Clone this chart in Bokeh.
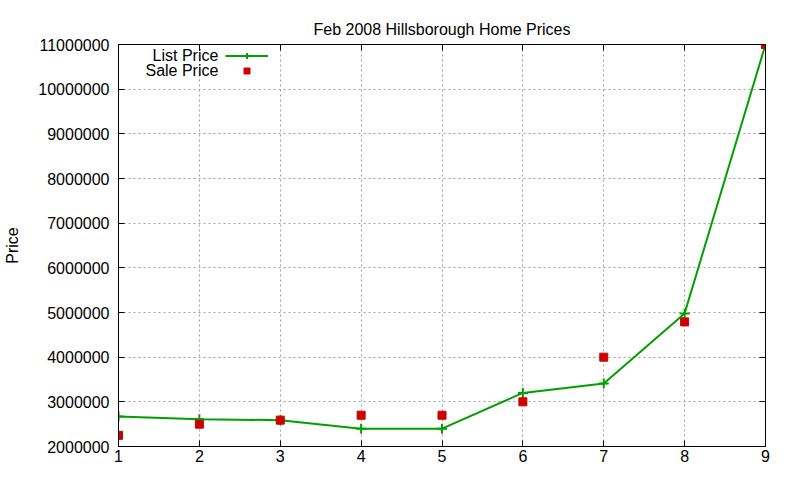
from bokeh.plotting import figure
from bokeh.models import (FixedTicker, PrintfTickFormatter, LinearAxis, Legend, LegendItem, Range1d, Label)
from bokeh.embed import file_html
from bokeh.resources import INLINE

index = [1, 2, 3, 4, 5, 6, 7, 8, 9]
list_price = [2670000, 2610000, 2590000, 2400000, 2400000, 3200000, 3410000, 4980000, 11000000]
sale_price = [2250000, 2500000, 2590000, 2700000, 2700000, 3000000, 4000000, 4790000, 11000000]
x_ticks = [1, 2, 3, 4, 5, 6, 7, 8, 9]
y_ticks = [2000000, 3000000, 4000000, 5000000, 6000000, 7000000, 8000000, 9000000, 10000000, 11000000]
series_names = ["List Price", "Sale Price"]

FONT = "Liberation Sans"
FS = "16px"
GREEN = "#00a000"
RED = "#cc0000"

W, H = 784, 464
BL, BR, BT, BB = 118, 19, 44, 18
frame_h = H - BT - BB

p = figure(width=W, height=H, output_backend="svg", toolbar_location=None,
           x_range=Range1d(1, 9), y_range=Range1d(2000000, 11000000),
           min_border_left=BL, min_border_right=BR, min_border_top=BT, min_border_bottom=BB)

p.title.text = "Feb 2008 Hillsborough Home Prices"
p.title.align = "center"
p.title.text_font = FONT
p.title.text_font_size = FS
p.title.text_font_style = "normal"
p.title.text_color = "#000000"
p.title.standoff = 13

p.outline_line_color = "black"
p.outline_line_width = 1
p.background_fill_color = "white"
p.border_fill_color = "white"

for ax in [p.xaxis[0], p.yaxis[0]]:
    ax.major_tick_in = 6
    ax.major_tick_out = 0
    ax.minor_tick_in = 0
    ax.minor_tick_out = 0
    ax.major_label_text_font = FONT
    ax.major_label_text_font_size = FS
    ax.major_label_text_color = "black"
    ax.axis_line_color = "black"
    ax.major_tick_line_color = "black"

p.xaxis[0].ticker = FixedTicker(ticks=x_ticks)
p.yaxis[0].ticker = FixedTicker(ticks=y_ticks)
p.yaxis[0].formatter = PrintfTickFormatter(format="%d")
p.yaxis[0].axis_label = "Price"
p.yaxis[0].axis_label_text_font = FONT
p.yaxis[0].axis_label_text_font_size = FS
p.yaxis[0].axis_label_text_font_style = "normal"
p.yaxis[0].axis_label_text_color = "black"
p.yaxis[0].axis_label_standoff = 14
p.yaxis[0].major_label_standoff = 9
p.xaxis[0].major_label_standoff = 3

# mirrored ticks
top = LinearAxis(ticker=FixedTicker(ticks=x_ticks), major_tick_in=6, major_tick_out=0,
                 minor_tick_in=0, minor_tick_out=0, major_label_text_font_size="0px",
                 major_label_text_color=None, axis_line_color="black")
right = LinearAxis(ticker=FixedTicker(ticks=y_ticks), major_tick_in=6, major_tick_out=0,
                   minor_tick_in=0, minor_tick_out=0, major_label_text_font_size="0px",
                   major_label_text_color=None, axis_line_color="black")
p.add_layout(top, "above")
p.add_layout(right, "right")

p.xgrid.ticker = FixedTicker(ticks=x_ticks)
p.ygrid.ticker = FixedTicker(ticks=y_ticks)
p.grid.grid_line_color = "#a0a0a0"
p.grid.grid_line_dash = "2 3"
p.grid.grid_line_width = 1

l1 = p.line(index, list_price, line_color=GREEN, line_width=2)
m1 = p.scatter(index, list_price, marker="cross", size=10, line_color=GREEN, line_width=2)
s1 = p.scatter(index, sale_price, marker="square", size=8, fill_color=RED, line_color=RED)

# gnuplot-style key: label text on the left, sample on the right
ROW_H = 15
legend = Legend(items=[LegendItem(label=" ", renderers=[l1, m1]),
                       LegendItem(label=" ", renderers=[s1])],
                location=(107, frame_h - 4 - 2 * ROW_H), background_fill_alpha=0,
                border_line_color=None, label_text_font=FONT, label_text_font_size=FS,
                spacing=0, padding=0, margin=0, glyph_width=43, glyph_height=ROW_H,
                label_height=ROW_H, label_width=1, label_standoff=0)
p.add_layout(legend)

key_x = 2.235
key_y = [10750000, 10410000]
for name, ky in zip(series_names, key_y):
    p.add_layout(Label(x=key_x, y=ky, text=name, text_font=FONT, text_font_size=FS,
                       text_align="right", text_baseline="middle", text_color="black"))

open("out.html", "w").write(file_html(p, INLINE))
